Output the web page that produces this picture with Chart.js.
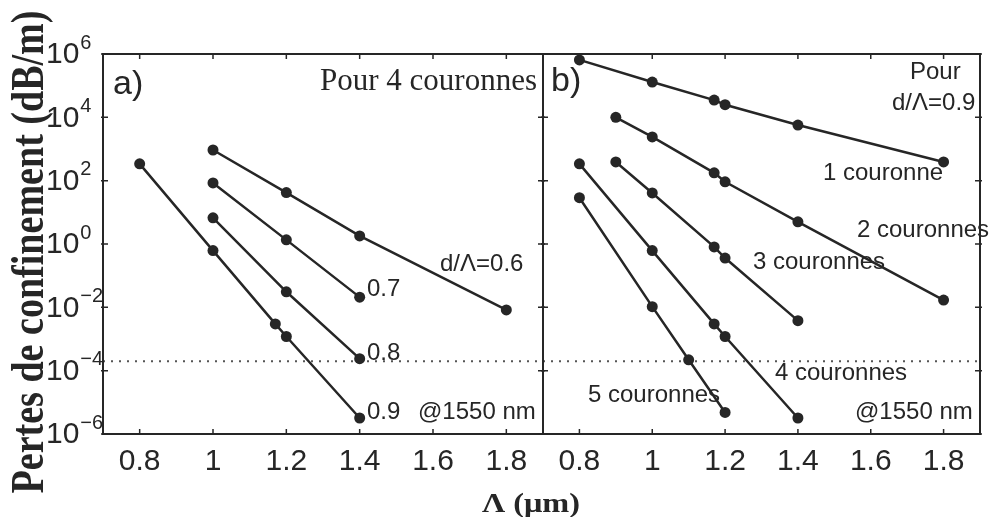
<!DOCTYPE html>
<html>
<head>
<meta charset="utf-8">
<script src="https://cdn.jsdelivr.net/npm/chart.js@4.4.0/dist/chart.umd.min.js"></script>
<style>
  html, body { margin: 0; padding: 0; background: #fff; }
  #wrap { position: relative; width: 990px; height: 517px; }
  #wrap canvas { position: absolute; left: 0; top: 0; }
</style>
</head>
<body>
<div id="wrap">
  <canvas id="panelA" width="990" height="517"></canvas>
  <canvas id="panelB" width="990" height="517"></canvas>
</div>
<script>
// (a) 4 rings, several d/Λ ratios -- loss in dB/m vs pitch Λ (µm)
const lambdaA06 = [1.0, 1.2, 1.4, 1.8];
const lossA06 = [930, 42, 1.8, 8.3e-3];
const lambdaA07 = [1.0, 1.2, 1.4];
const lossA07 = [85, 1.35, 2.1e-2];
const lambdaA08 = [1.0, 1.2, 1.4];
const lossA08 = [6.7, 3.1e-2, 2.4e-4];
const lambdaA09 = [0.8, 1.0, 1.17, 1.2, 1.4];
const lossA09 = [340, 0.62, 3.0e-3, 1.2e-3, 3.2e-6];

// (b) d/Λ = 0.9, 1 to 5 rings
const lambdaB1 = [0.8, 1.0, 1.17, 1.2, 1.4, 1.8];
const lossB1 = [6.5e5, 1.3e5, 3.5e4, 2.5e4, 5.7e3, 390];
const lambdaB2 = [0.9, 1.0, 1.17, 1.2, 1.4, 1.8];
const lossB2 = [1.0e4, 2400, 177, 92, 5.0, 1.7e-2];
const lambdaB3 = [0.9, 1.0, 1.17, 1.2, 1.4];
const lossB3 = [390, 41, 0.81, 0.36, 3.8e-3];
const lambdaB4 = [0.8, 1.0, 1.17, 1.2, 1.4];
const lossB4 = [340, 0.62, 3.0e-3, 1.2e-3, 3.2e-6];
const lambdaB5 = [0.8, 1.0, 1.1, 1.2];
const lossB5 = [29, 1.05e-2, 2.2e-4, 4.8e-6];

// reference loss level (dotted line)
const lossLimit = 2e-4;

// axes
const xTicks = [0.8, 1, 1.2, 1.4, 1.6, 1.8];
const xTickLabels = ['0.8', '1', '1.2', '1.4', '1.6', '1.8'];
const yExponents = [6, 4, 2, 0, -2, -4, -6];

const INK = '#262626';
const SANS = '"Liberation Sans", Arial, sans-serif';
const SERIF = '"Liberation Serif", "Times New Roman", serif';

const notesA = [
  { text: 'a)', x: 113, y: 85, font: '34px ' + SANS },
  { text: 'Pour 4 couronnes', x: 537, y: 82, font: '31px ' + SERIF, align: 'right' },
  { text: 'd/Λ=0.6', x: 440, y: 264 },
  { text: '0.7', x: 367, y: 289 },
  { text: '0.8', x: 367, y: 353 },
  { text: '0.9', x: 367, y: 412 },
  { text: '@1550 nm', x: 418, y: 412 }
];
const notesB = [
  { text: 'b)', x: 551, y: 82, font: '34px ' + SANS },
  { text: 'Pour', x: 910, y: 72 },
  { text: 'd/Λ=0.9', x: 892, y: 103 },
  { text: '1 couronne', x: 823, y: 173 },
  { text: '2 couronnes', x: 857, y: 230 },
  { text: '3 couronnes', x: 753, y: 262 },
  { text: '4 couronnes', x: 775, y: 373 },
  { text: '5 couronnes', x: 588, y: 395 },
  { text: '@1550 nm', x: 855, y: 412 }
];

function series(xs, ys) {
  return {
    data: xs.map((x, i) => ({ x: x, y: ys[i] })),
    borderColor: INK,
    backgroundColor: INK,
    borderWidth: 2.5,
    pointRadius: 5.5,
    pointBorderWidth: 0,
    pointBackgroundColor: INK,
    tension: 0,
    fill: false,
    clip: false
  };
}

function drawNotes(ctx, notes) {
  ctx.fillStyle = INK;
  ctx.textBaseline = 'middle';
  notes.forEach(n => {
    ctx.font = n.font || ('24px ' + SANS);
    ctx.textAlign = n.align || 'left';
    ctx.fillText(n.text, n.x, n.y);
  });
}

// frame, inward ticks, tick labels, dotted limit line and text
function decorations(notes, withYAxis) {
  return {
    id: 'decorations',
    beforeDatasetsDraw(chart) {
      const ctx = chart.ctx;
      const area = chart.chartArea;
      const yPix = chart.scales.y.getPixelForValue(lossLimit);
      ctx.save();
      ctx.strokeStyle = '#555';
      ctx.lineWidth = 2;
      ctx.setLineDash([2, 6]);
      ctx.beginPath();
      ctx.moveTo(area.left, yPix);
      ctx.lineTo(area.right, yPix);
      ctx.stroke();
      ctx.restore();
    },
    afterDatasetsDraw(chart) {
      const ctx = chart.ctx;
      const area = chart.chartArea;
      const xs = chart.scales.x;
      const ys = chart.scales.y;
      ctx.save();
      ctx.strokeStyle = INK;
      ctx.lineWidth = 2;
      ctx.strokeRect(area.left, area.top, area.right - area.left, area.bottom - area.top);

      ctx.lineWidth = 1.5;
      ctx.beginPath();
      xTicks.forEach(v => {
        const px = xs.getPixelForValue(v);
        ctx.moveTo(px, area.bottom); ctx.lineTo(px, area.bottom - 5);
        ctx.moveTo(px, area.top); ctx.lineTo(px, area.top + 5);
      });
      yExponents.forEach(e => {
        const py = ys.getPixelForValue(Math.pow(10, e));
        ctx.moveTo(area.left - 2, py); ctx.lineTo(area.left + 5, py);
        ctx.moveTo(area.right + 2, py); ctx.lineTo(area.right - 5, py);
      });
      ctx.stroke();

      ctx.fillStyle = INK;
      ctx.font = '30px ' + SANS;
      ctx.textAlign = 'center';
      ctx.textBaseline = 'middle';
      xTicks.forEach((v, i) => {
        ctx.fillText(xTickLabels[i], xs.getPixelForValue(v), 462);
      });

      if (withYAxis) {
        yExponents.forEach(e => {
          const py = ys.getPixelForValue(Math.pow(10, e));
          ctx.textAlign = 'left';
          ctx.font = '30px ' + SANS;
          ctx.fillText('10', 46, py + 1);
          const w = ctx.measureText('10').width;
          ctx.font = '20px ' + SANS;
          ctx.fillText(e < 0 ? '\u2212' + (-e) : String(e), 46 + w + 1, py - 11);
        });

        // y title: tall condensed bold serif, reading upward
        ctx.save();
        ctx.translate(43, 252);
        ctx.rotate(-Math.PI / 2);
        ctx.font = 'bold 46px ' + SERIF;
        const title = 'Pertes de confinement (dB/m)';
        const tw = ctx.measureText(title).width;
        ctx.scale(483 / tw, 1);
        ctx.textAlign = 'center';
        ctx.textBaseline = 'alphabetic';
        ctx.fillText(title, 0, 0);
        ctx.restore();

        // x title
        ctx.save();
        ctx.font = 'bold 28px ' + SERIF;
        const xt = 'Λ (μm)';
        const xw = ctx.measureText(xt).width;
        ctx.translate(531, 512);
        ctx.scale(98 / xw, 1);
        ctx.textAlign = 'center';
        ctx.textBaseline = 'alphabetic';
        ctx.fillText(xt, 0, 0);
        ctx.restore();
      }

      drawNotes(ctx, notes);
      ctx.restore();
    }
  };
}

function makePanel(id, datasets, notes, withYAxis, padding) {
  return new Chart(document.getElementById(id).getContext('2d'), {
    type: 'line',
    data: { datasets: datasets },
    options: {
      responsive: false,
      animation: false,
      events: [],
      layout: { padding: padding },
      plugins: { legend: { display: false }, tooltip: { enabled: false } },
      scales: {
        x: { type: 'linear', min: 0.7, max: 1.9, display: false },
        y: { type: 'logarithmic', min: 1e-6, max: 1e6, display: false }
      }
    },
    plugins: [decorations(notes, withYAxis)]
  });
}

makePanel('panelA', [
  series(lambdaA06, lossA06),
  series(lambdaA07, lossA07),
  series(lambdaA08, lossA08),
  series(lambdaA09, lossA09)
], notesA, true, { left: 103, right: 447, top: 54, bottom: 83 });

makePanel('panelB', [
  series(lambdaB1, lossB1),
  series(lambdaB2, lossB2),
  series(lambdaB3, lossB3),
  series(lambdaB4, lossB4),
  series(lambdaB5, lossB5)
], notesB, false, { left: 543, right: 10, top: 54, bottom: 83 });
</script>
</body>
</html>
